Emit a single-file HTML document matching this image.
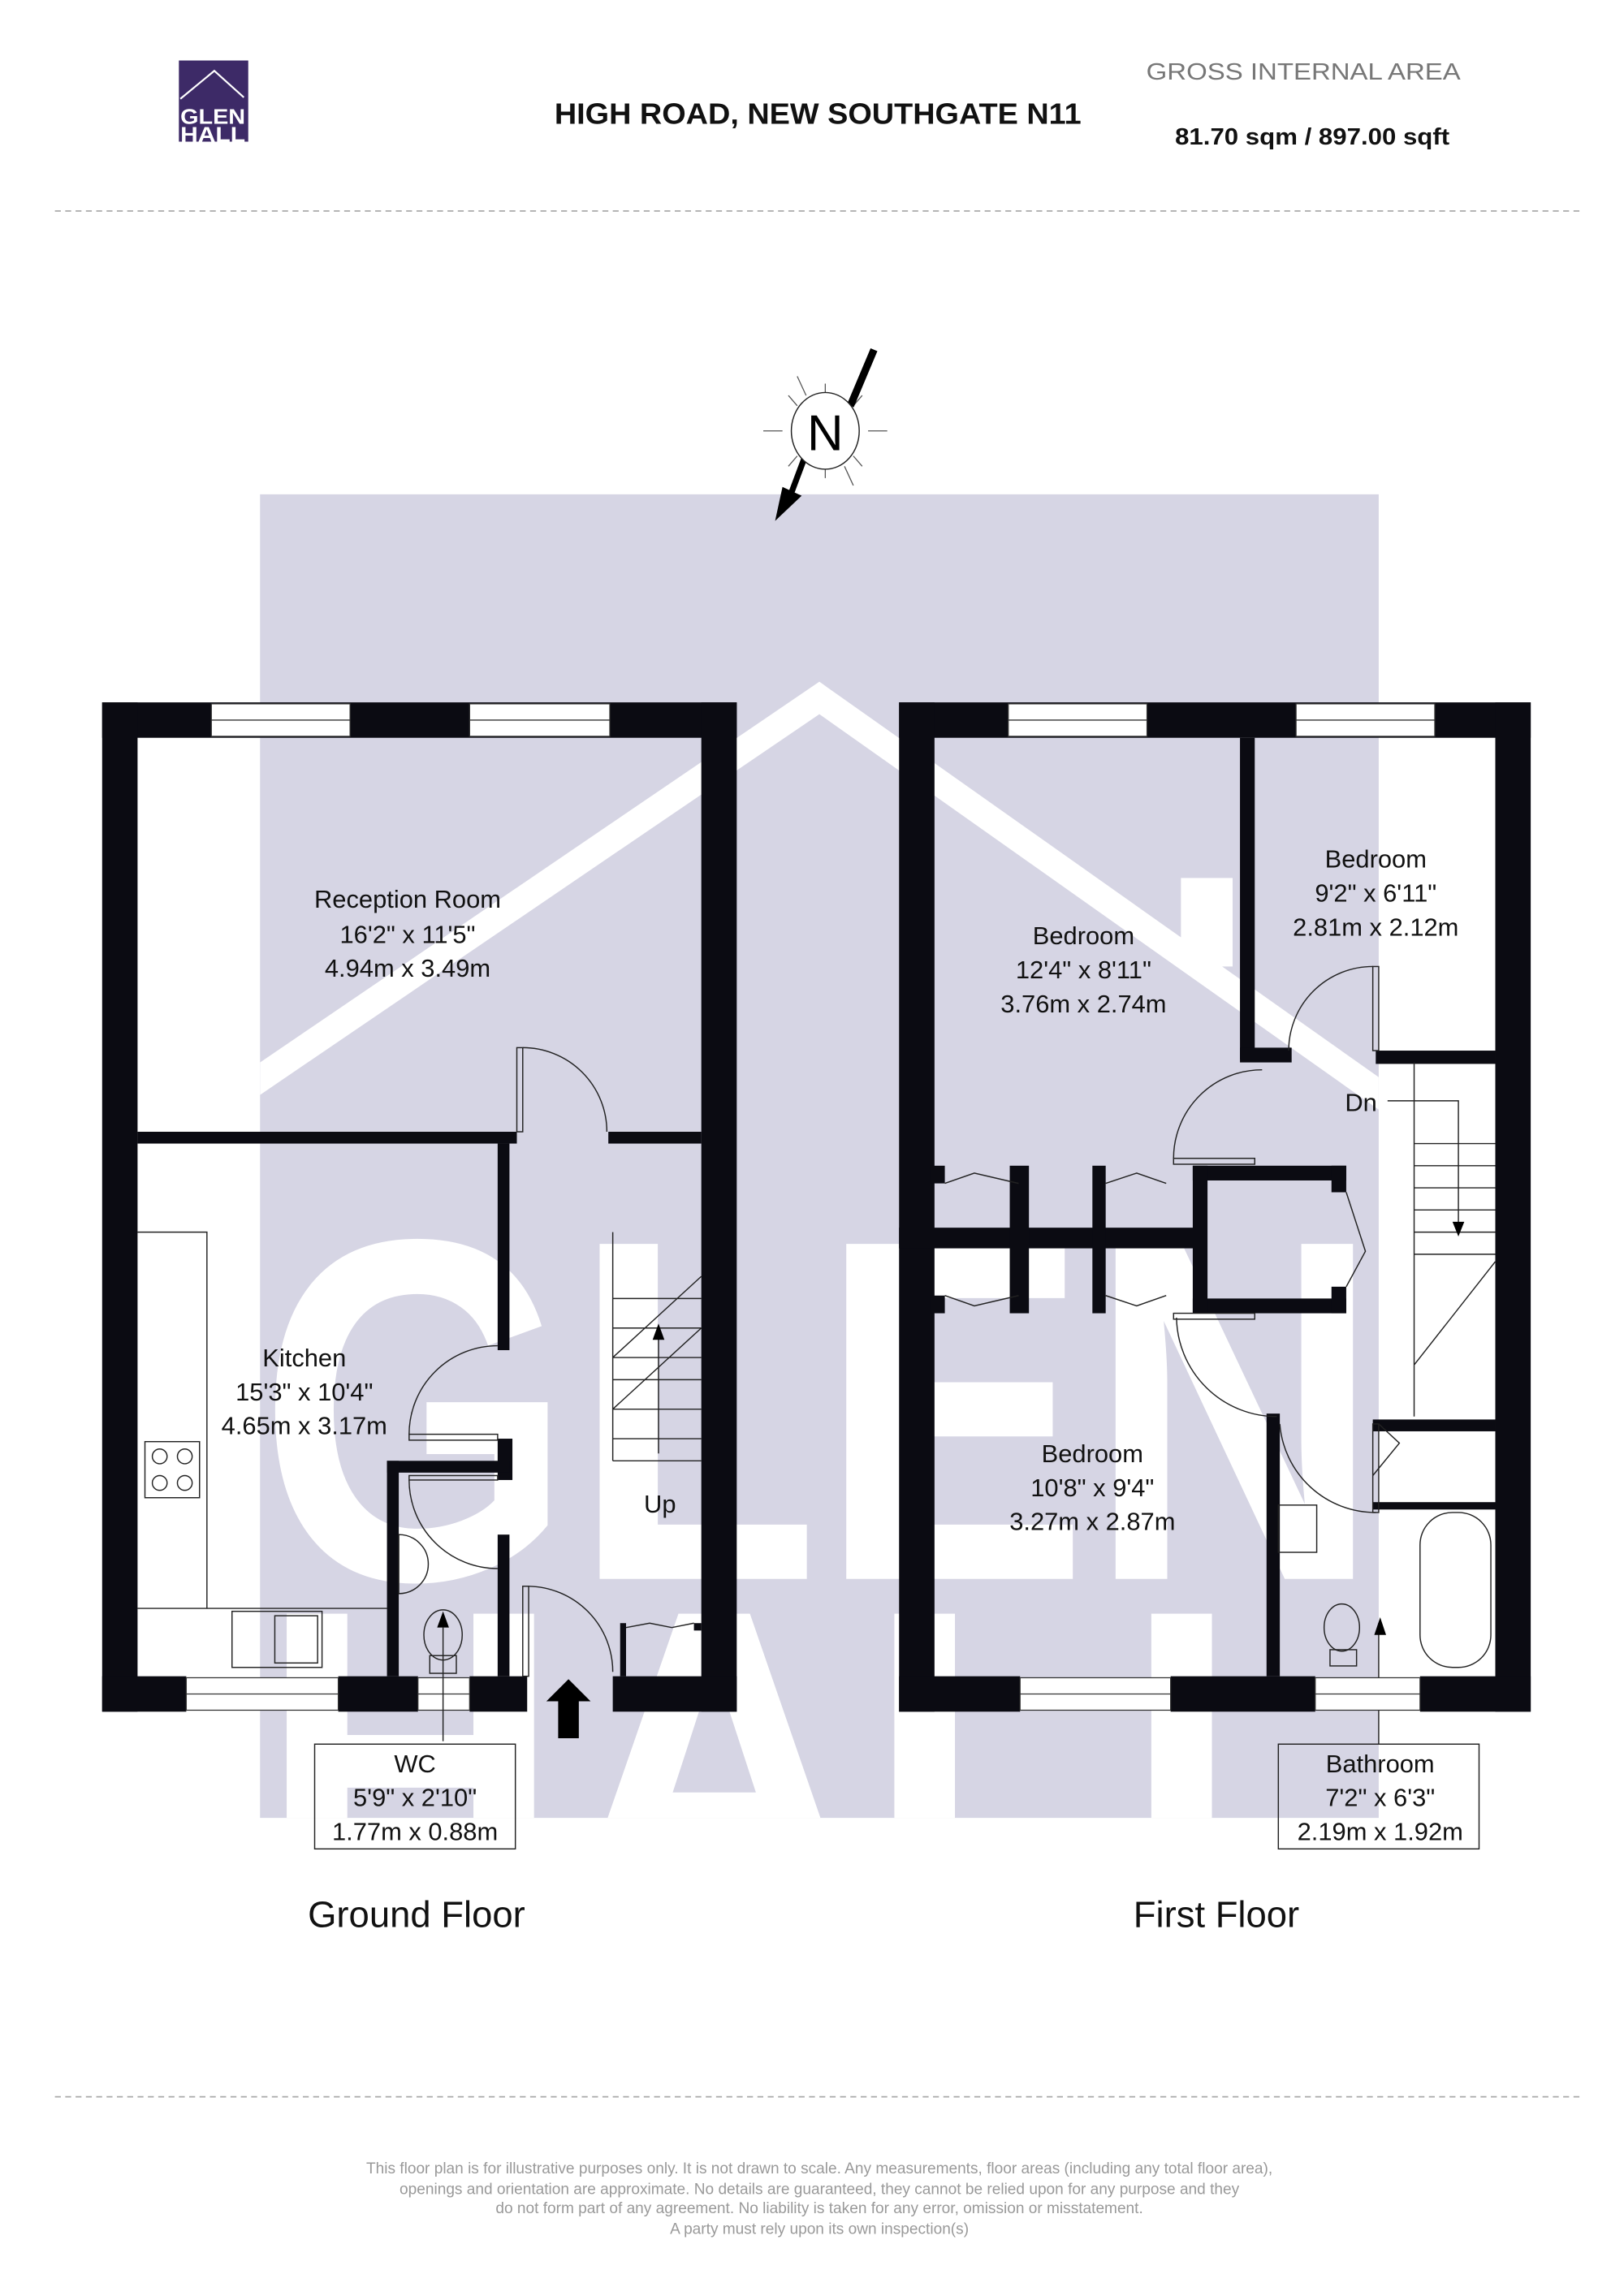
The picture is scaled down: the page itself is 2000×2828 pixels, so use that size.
<!DOCTYPE html>
<html><head><meta charset="utf-8"><style>
html,body{margin:0;padding:0;background:#fff}
svg{display:block}
text{font-family:"Liberation Sans",sans-serif}
</style></head><body>
<svg width="2000" height="2828" viewBox="0 0 1100 1556" xmlns="http://www.w3.org/2000/svg">
<defs><clipPath id="wm"><rect x="176" y="335" width="758" height="897"/></clipPath></defs>
<!-- header -->
<rect x="121" y="41" width="47" height="55" fill="#3d2a67"/>
<polyline points="122,67 145,48 165,66" fill="none" stroke="#fff" stroke-width="1.2"/>
<text x="144" y="84" font-size="14" font-weight="bold" fill="#fff" text-anchor="middle" textLength="44" lengthAdjust="spacingAndGlyphs">GLEN</text>
<text x="144" y="96" font-size="14" font-weight="bold" fill="#fff" text-anchor="middle" textLength="44" lengthAdjust="spacingAndGlyphs">HALL</text>
<text x="554" y="84" font-size="20" font-weight="bold" fill="#111" text-anchor="middle" textLength="357" lengthAdjust="spacingAndGlyphs">HIGH ROAD, NEW SOUTHGATE N11</text>
<text x="883" y="54" font-size="16" fill="#777" text-anchor="middle" textLength="213" lengthAdjust="spacingAndGlyphs">GROSS INTERNAL AREA</text>
<text x="889" y="98" font-size="16" font-weight="bold" fill="#111" text-anchor="middle" textLength="186" lengthAdjust="spacingAndGlyphs">81.70 sqm / 897.00 sqft</text>
<line x1="37" y1="143" x2="1070" y2="143" stroke="#aaa" stroke-dasharray="4,3"/>
<!-- watermark -->
<rect x="176" y="335" width="758" height="897" fill="#d6d5e4"/>
<g clip-path="url(#wm)" fill="#fff">
<polygon points="176,720 555,462 934,730 934,752 555,484 176,742"/>
<rect x="800" y="595" width="35" height="60"/>
<text x="555" y="1070" font-size="330" font-weight="bold" text-anchor="middle" textLength="760" lengthAdjust="spacingAndGlyphs">GLEN</text>
<text x="555" y="1300" font-size="300" font-weight="bold" text-anchor="middle" textLength="760" lengthAdjust="spacingAndGlyphs">HALL</text>
</g>
<!-- compass -->
<g stroke="#555" stroke-width="0.7">
<line x1="517" y1="292" x2="530" y2="292"/><line x1="588" y1="292" x2="601" y2="292"/>
<line x1="559" y1="260" x2="559" y2="268"/><line x1="559" y1="316" x2="559" y2="324"/>
<line x1="540" y1="275" x2="534" y2="268"/><line x1="578" y1="309" x2="584" y2="316"/>
<line x1="578" y1="275" x2="584" y2="268"/><line x1="540" y1="309" x2="534" y2="316"/>
<line x1="546" y1="268" x2="540" y2="255"/><line x1="572" y1="316" x2="578" y2="329"/>
</g>
<line x1="592" y1="237" x2="576" y2="275" stroke="#000" stroke-width="5"/>
<line x1="545" y1="310" x2="536" y2="334" stroke="#000" stroke-width="4"/>
<polygon points="525,353 530,330 543,336" fill="#000"/>
<ellipse cx="559" cy="292" rx="23" ry="26" fill="#fff" stroke="#222" stroke-width="0.8"/>
<text x="559" y="305" font-size="34" text-anchor="middle" fill="#000">N</text>
<!-- GROUND FLOOR -->
<g fill="#0b0b12">
<rect x="69" y="476" width="430" height="24"/>
<rect x="69" y="476" width="24" height="684"/>
<rect x="475" y="476" width="24" height="684"/>
<rect x="69" y="1136" width="57" height="24"/>
<rect x="229" y="1136" width="54" height="24"/>
<rect x="318" y="1136" width="39" height="24"/>
<rect x="415" y="1136" width="84" height="24"/>
<rect x="93" y="767" width="257" height="8"/>
<rect x="412" y="767" width="63" height="8"/>
<rect x="337" y="775" width="8" height="140"/>
<rect x="337" y="975" width="10" height="28"/>
<rect x="262" y="990" width="83" height="8"/>
<rect x="262" y="990" width="8" height="146"/>
<rect x="337" y="1040" width="8" height="96"/>
<rect x="420" y="1100" width="4" height="36"/><rect x="470" y="1100" width="5" height="5"/>
</g>
<g fill="#fff" stroke="#333" stroke-width="0.7">
<rect x="143" y="477" width="94" height="22"/><line x1="143" y1="488" x2="237" y2="488"/>
<rect x="318" y="477" width="95" height="22"/><line x1="318" y1="488" x2="413" y2="488"/>
<rect x="126" y="1137" width="103" height="22"/><line x1="126" y1="1148" x2="229" y2="1148"/>
<rect x="283" y="1137" width="35" height="22"/><line x1="283" y1="1148" x2="318" y2="1148"/>
</g>
<g fill="none" stroke="#222" stroke-width="0.8">
<rect x="350" y="710" width="4" height="57"/><path d="M354,710 A57,57 0 0 1 411,767"/>
<rect x="277" y="972" width="60" height="4"/><path d="M277,972 A60,60 0 0 1 337,912"/>
<rect x="277" y="1000" width="60" height="3"/><path d="M277,1003 A60,60 0 0 0 337,1063"/>
<rect x="354" y="1075" width="4" height="61"/><path d="M358,1075 A58,58 0 0 1 415,1133"/>
<path d="M93,835 H140 V1090 H262 M93,1090 H140"/>
<rect x="98" y="977" width="37" height="38"/>
<circle cx="108" cy="987" r="5"/><circle cx="125" cy="987" r="5"/><circle cx="108" cy="1005" r="5"/><circle cx="125" cy="1005" r="5"/>
<rect x="157" y="1092" width="61" height="38"/><rect x="186" y="1095" width="29" height="32"/>
<path d="M415,955 L475,900 M415,835 V990 M415,955 H475 M415,975 H475 M415,990 H475"/>
<path d="M415,920 L475,865 M415,920 H475 M415,935 H475 M415,900 H475 M415,880 H475"/>
<line x1="446" y1="985" x2="446" y2="900"/>
<ellipse cx="300" cy="1108" rx="13" ry="17"/><rect x="291" y="1122" width="18" height="12"/>
<path d="M270,1040 A20,20 0 0 1 270,1080 Z"/>
<path d="M424,1103 L440,1100 L455,1103 L470,1100"/>
<line x1="300" y1="1180" x2="300" y2="1103"/>
<rect x="213" y="1182" width="136" height="71"/>
<rect x="866" y="1182" width="136" height="71"/>
<line x1="934" y1="1182" x2="934" y2="1100"/>
</g>
<polygon points="296,1103 300,1092 304,1103" fill="#000"/>
<polygon points="442,908 446,897 450,908" fill="#000"/>
<polygon points="931,1108 935,1096 939,1108" fill="#000"/>
<polygon points="385,1138 400,1153 392,1153 392,1178 378,1178 378,1153 370,1153" fill="#000"/>
<!-- FIRST FLOOR -->
<g fill="#0b0b12">
<rect x="609" y="476" width="428" height="24"/>
<rect x="609" y="476" width="24" height="684"/>
<rect x="1013" y="476" width="24" height="684"/>
<rect x="609" y="1136" width="82" height="24"/>
<rect x="793" y="1136" width="98" height="24"/>
<rect x="962" y="1136" width="75" height="24"/>
<rect x="840" y="500" width="10" height="218"/>
<rect x="840" y="710" width="35" height="10"/>
<rect x="932" y="712" width="81" height="9"/>
<rect x="609" y="832" width="200" height="14"/>
<rect x="684" y="790" width="13" height="100"/>
<rect x="740" y="790" width="9" height="100"/>
<rect x="808" y="790" width="104" height="10"/><rect x="808" y="880" width="104" height="10"/>
<rect x="808" y="790" width="10" height="100"/>
<rect x="902" y="790" width="10" height="18"/><rect x="902" y="872" width="10" height="18"/>
<rect x="630" y="790" width="10" height="12"/><rect x="630" y="878" width="10" height="12"/>
<rect x="858" y="958" width="9" height="178"/>
<rect x="930" y="962" width="83" height="8"/>
<rect x="930" y="1018" width="83" height="5"/>
</g>
<g fill="#fff" stroke="#333" stroke-width="0.7">
<rect x="683" y="477" width="94" height="22"/><line x1="683" y1="488" x2="777" y2="488"/>
<rect x="878" y="477" width="94" height="22"/><line x1="878" y1="488" x2="972" y2="488"/>
<rect x="691" y="1137" width="102" height="22"/><line x1="691" y1="1148" x2="793" y2="1148"/>
<rect x="891" y="1137" width="71" height="22"/><line x1="891" y1="1148" x2="962" y2="1148"/>
</g>
<g fill="none" stroke="#222" stroke-width="0.8">
<rect x="930" y="655" width="4" height="57"/><path d="M930,655 A57,57 0 0 0 873,712"/>
<rect x="795" y="785" width="55" height="4"/><path d="M795,785 A60,60 0 0 1 855,725"/>
<rect x="795" y="890" width="55" height="4"/><path d="M797,893 A68,68 0 0 0 865,960"/>
<rect x="930" y="965" width="4" height="60"/><path d="M934,965 L948,978 L930,1000"/>
<path d="M867,965 A65,65 0 0 0 932,1025"/>
<path d="M640,802 L660,795 L690,802 M640,878 L660,885 L690,878"/>
<path d="M749,802 L770,795 L790,802 M749,878 L770,885 L790,878"/>
<path d="M912,808 L925,848 L912,872"/>
<path d="M958,720 V960 M958,775 H1013 M958,790 H1013 M958,805 H1013 M958,820 H1013 M958,835 H1013 M958,850 H1013 M958,925 L1013,855"/>
<path d="M940,746 H988 V830"/>
<rect x="866" y="1020" width="26" height="32"/>
<ellipse cx="909" cy="1103" rx="12" ry="16"/><rect x="901" y="1118" width="18" height="11"/>
<rect x="962" y="1025" width="48" height="105" rx="22"/>
</g>
<polygon points="984,828 988,838 992,828" fill="#000"/>
<!-- labels -->
<g font-size="17" fill="#111" text-anchor="middle">
<text x="276" y="615">Reception Room</text><text x="276" y="639">16'2" x 11'5"</text><text x="276" y="662">4.94m x 3.49m</text>
<text x="206" y="926">Kitchen</text><text x="206" y="949">15'3" x 10'4"</text><text x="206" y="972">4.65m x 3.17m</text>
<text x="447" y="1025">Up</text>
<text x="281" y="1201">WC</text><text x="281" y="1224">5'9" x 2'10"</text><text x="281" y="1247">1.77m x 0.88m</text>
<text x="734" y="640">Bedroom</text><text x="734" y="663">12'4" x 8'11"</text><text x="734" y="686">3.76m x 2.74m</text>
<text x="932" y="588">Bedroom</text><text x="932" y="611">9'2" x 6'11"</text><text x="932" y="634">2.81m x 2.12m</text>
<text x="922" y="753">Dn</text>
<text x="740" y="991">Bedroom</text><text x="740" y="1014">10'8" x 9'4"</text><text x="740" y="1037">3.27m x 2.87m</text>
<text x="935" y="1201">Bathroom</text><text x="935" y="1224">7'2" x 6'3"</text><text x="935" y="1247">2.19m x 1.92m</text>
</g>
<text x="282" y="1306" font-size="25" text-anchor="middle" fill="#111">Ground Floor</text>
<text x="824" y="1306" font-size="25" text-anchor="middle" fill="#111">First Floor</text>
<line x1="37" y1="1421" x2="1070" y2="1421" stroke="#aaa" stroke-dasharray="4,3"/>
<g font-size="10.5" fill="#999" text-anchor="middle">
<text x="555" y="1473">This floor plan is for illustrative purposes only. It is not drawn to scale. Any measurements, floor areas (including any total floor area),</text>
<text x="555" y="1487">openings and orientation are approximate. No details are guaranteed, they cannot be relied upon for any purpose and they</text>
<text x="555" y="1500">do not form part of any agreement. No liability is taken for any error, omission or misstatement.</text>
<text x="555" y="1514">A party must rely upon its own inspection(s)</text>
</g>
</svg>
</body></html>
